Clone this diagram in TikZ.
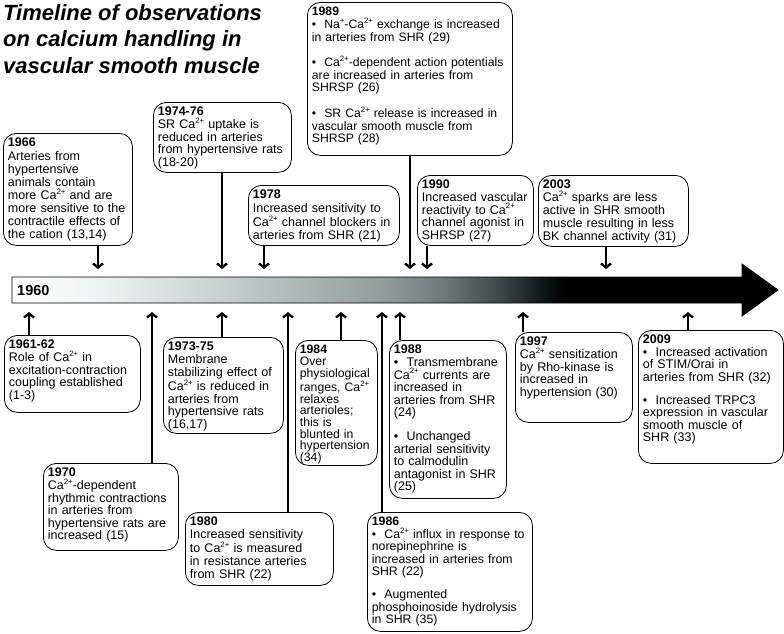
\documentclass[tikz,border=0pt]{standalone}
\usepackage{fontspec}
\setmainfont{Liberation Sans}
\usetikzlibrary{arrows.meta}

\newcommand{\up}[1]{\raisebox{0.42em}{\fontsize{7.8}{7.8}\selectfont #1}}
\newcommand{\caion}{Ca\up{2+}}
\newcommand{\boxfont}{\fontsize{12.5}{12.6}\selectfont}

\definecolor{tlA}{HTML}{EEF2F2}
\definecolor{tlB}{HTML}{CDD7D6}
\definecolor{tlC}{HTML}{AAB8B6}
\definecolor{tlD}{HTML}{909F9C}
\definecolor{tlE}{HTML}{6E7C7C}
\definecolor{tlF}{HTML}{3A4747}
\definecolor{tlG}{HTML}{0C1414}
\pgfdeclarehorizontalshading{tlshade}{100bp}{color(0bp)=(white); color(25bp)=(white);
  color(30.7bp)=(tlA); color(37.3bp)=(tlB); color(43.8bp)=(tlC); color(49bp)=(tlD);
  color(53bp)=(tlE); color(56.9bp)=(tlF); color(59.8bp)=(tlG); color(61bp)=(black);
  color(100bp)=(black)}

\tikzset{font=\boxfont}
\tikzset{
  evbox/.code 2 args={%
    \pgfmathsetlengthmacro\evtw{#1pt-9pt}%
    \pgfmathsetlengthmacro\evtd{#2pt-17pt}%
    \edef\evtmp{\noexpand\pgfkeysalso{text width=\evtw, text depth=\evtd}}\evtmp
    \pgfkeysalso{draw, rounded corners=13pt, line width=0.8pt, align=left,
      anchor=north west, inner xsep=4.5pt, inner ysep=3.5pt, text height=10pt}},
  evarrow/.style={line width=2.4pt, -{Straight Barb[length=4pt,width=10pt]}},
}

\begin{document}
\begin{tikzpicture}[x=1pt,y=-1pt]
  \useasboundingbox (0,0) rectangle (784,633);

  \node[anchor=north west, align=left, inner sep=0pt,
    font=\fontsize{22}{26.5}\selectfont\bfseries\itshape] (title) at (3,4)
    {Timeline of observations\\on calcium handling in\\vascular smooth muscle};

  % the time axis
  \shade[shading=tlshade, draw=black, line width=0.8pt]
    (12,277) -- (742,277) -- (742,264) -- (778,290) -- (742,316) -- (742,303) -- (12,303) -- cycle;
  \node[anchor=base west, inner sep=0pt, font=\fontsize{14.5}{14.5}\selectfont\bfseries]
    (start) at (17,295) {1960};

  % points on the axis
  \coordinate (t1966) at (98,269);
  \coordinate (t1974) at (222,269);
  \coordinate (t1978) at (264,269);
  \coordinate (t1989) at (410,269);
  \coordinate (t1990) at (427,269);
  \coordinate (t2003) at (606,269);
  \coordinate (b1961) at (29,312);
  \coordinate (b1970) at (152,312);
  \coordinate (b1973) at (222,312);
  \coordinate (b1980) at (288,312);
  \coordinate (b1984) at (341,312);
  \coordinate (b1986) at (382,312);
  \coordinate (b1988) at (400,312);
  \coordinate (b1997) at (523,312);
  \coordinate (b2009) at (688,312);

  % above the axis
  \node[evbox={129}{112}, font=\fontsize{12.5}{13.1}\selectfont] (e1966) at (3,133)
    {\textbf{1966}\\Arteries from\\hypertensive\\animals contain\\more \caion{} and are\\more sensitive to the\\contractile effects of\\the cation (13,14)};
  \node[evbox={138}{70}] (e1974) at (153,102)
    {\textbf{1974-76}\\SR \caion{} uptake is\\reduced in arteries\\from hypertensive rats\\(18-20)};
  \node[evbox={151}{60}, font=\fontsize{12.5}{13.2}\selectfont] (e1978) at (248,185)
    {\textbf{1978}\\Increased sensitivity to\\\caion{} channel blockers in\\arteries from SHR (21)};
  \node[evbox={205}{153}, font=\fontsize{12.2}{12.6}\selectfont] (e1989) at (307,2)
    {\textbf{1989}\\\textbullet\ \ Na\up{+}-\caion{} exchange is increased\\in arteries from SHR (29)\\[11.5pt]
     \textbullet\ \ \caion-dependent action potentials\\are increased in arteries from\\SHRSP (26)\\[11.5pt]
     \textbullet\ \ SR \caion{} release is increased in\\vascular smooth muscle from\\SHRSP (28)};
  \node[evbox={116}{70}] (e1990) at (417,175)
    {\textbf{1990}\\Increased vascular\\reactivity to \caion\\channel agonist in\\SHRSP (27)};
  \node[evbox={150}{71}, font=\fontsize{12.5}{12.8}\selectfont] (e2003) at (538,175)
    {\textbf{2003}\\\caion{} sparks are less\\active in SHR smooth\\muscle resulting in less\\BK channel activity (31)};

  % below the axis
  \node[evbox={136}{77}] (e1961) at (4,335)
    {\textbf{1961-62}\\Role of \caion{} in\\excitation-contraction\\coupling established\\(1-3)};
  \node[evbox={135}{87}] (e1970) at (43,463)
    {\textbf{1970}\\\caion-dependent\\rhythmic contractions\\in arteries from\\hypertensive rats are\\increased (15)};
  \node[evbox={120}{96}] (e1973) at (163,337)
    {\textbf{1973-75}\\Membrane\\stabilizing effect of\\\caion{} is reduced in\\arteries from\\hypertensive rats\\(16,17)};
  \node[evbox={148}{73}] (e1980) at (185,512)
    {\textbf{1980}\\Increased sensitivity\\to \caion{} is measured\\in resistance arteries\\from SHR (22)};
  \node[evbox={82}{125}, font=\fontsize{12.2}{11.7}\selectfont] (e1984) at (295,340)
    {\textbf{1984}\\Over\\physiological\\ranges, \caion\\relaxes\\arterioles;\\this is\\blunted in\\hypertension\\(34)};
  \node[evbox={165}{119}, font=\fontsize{12.3}{12.4}\selectfont] (e1986) at (367,512)
    {\textbf{1986}\\\textbullet\ \ \caion{} influx in response to\\norepinephrine is\\increased in arteries from\\SHR (22)\\[11pt]
     \textbullet\ \ Augmented\\phosphoinoside hydrolysis\\in SHR (35)};
  \node[evbox={117}{158}] (e1988) at (389,340)
    {\textbf{1988}\\\textbullet\ \ Transmembrane\\\caion{} currents are\\increased in\\arteries from SHR\\(24)\\[11pt]
     \textbullet\ \ Unchanged\\arterial sensitivity\\to calmodulin\\antagonist in SHR\\(25)};
  \node[evbox={117}{90}] (e1997) at (515,332)
    {\textbf{1997}\\\caion{} sensitization\\by Rho-kinase is\\increased in\\hypertension (30)};
  \node[evbox={145}{133}, font=\fontsize{12.5}{12.4}\selectfont] (e2009) at (638,330)
    {\textbf{2009}\\\textbullet\ \ Increased activation\\of STIM/Orai in\\arteries from SHR (32)\\[11pt]
     \textbullet\ \ Increased TRPC3\\expression in vascular\\smooth muscle of\\SHR (33)};

  % connectors
  \draw[evarrow] (e1966.south -| t1966) -- (t1966);
  \draw[evarrow] (e1974.south -| t1974) -- (t1974);
  \draw[evarrow] (e1978.south -| t1978) -- (t1978);
  \draw[evarrow] (e1989.south -| t1989) -- (t1989);
  \draw[evarrow] (e1990.south -| t1990) -- (t1990);
  \draw[evarrow] (e2003.south -| t2003) -- (t2003);
  \draw[evarrow] (e1961.north -| b1961) -- (b1961);
  \draw[evarrow] (e1970.north -| b1970) -- (b1970);
  \draw[evarrow] (e1973.north -| b1973) -- (b1973);
  \draw[evarrow] (e1980.north -| b1980) -- (b1980);
  \draw[evarrow] (e1984.north -| b1984) -- (b1984);
  \draw[evarrow] (e1986.north -| b1986) -- (b1986);
  \draw[evarrow] (e1988.north -| b1988) -- (b1988);
  \draw[evarrow] (e1997.north -| b1997) -- (b1997);
  \draw[evarrow] (e2009.north -| b2009) -- (b2009);
\end{tikzpicture}
\end{document}
